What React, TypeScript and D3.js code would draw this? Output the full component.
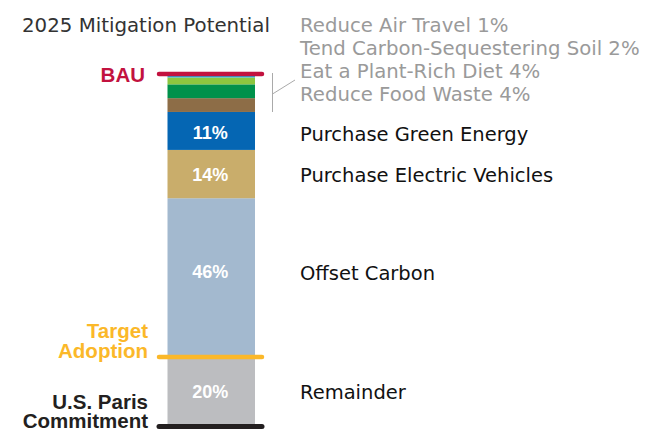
import React from "react";
import * as d3 from "d3";

const categories = [
  "Remainder",
  "Offset Carbon",
  "Purchase Electric Vehicles",
  "Purchase Green Energy",
  "Reduce Food Waste",
  "Eat a Plant-Rich Diet",
  "Tend Carbon-Sequestering Soil",
  "Reduce Air Travel",
];
const values = [20, 46, 14, 11, 4, 4, 2, 1];
const colors = ["#bcbdc0", "#a3b9cf", "#c9ad6b", "#0566b3", "#8d6d47", "#00914b", "#8cc63f", "#1fb1e0"];
const showInBar = [true, true, true, true, false, false, false, false];
const labelNudge = [0, -6, 0, 2, 0, 0, 0, 0];
const grayLabels = ["Reduce Air Travel 1%", "Tend Carbon-Sequestering Soil 2%", "Eat a Plant-Rich Diet 4%", "Reduce Food Waste 4%"];
const title = "2025 Mitigation Potential";

const W = 667;
const H = 429;
const FONT = "'DejaVu Sans', sans-serif";
const BOLD = "'Liberation Sans', Arial, sans-serif";

export default function App() {
  const total = d3.sum(values);
  const y = d3.scaleLinear().domain([0, total]).range([426, 74]);
  const barX = 167.5;
  const barW = 87.5;
  const lineX0 = 159;
  const lineX1 = 262;
  const stack: { name: string; v: number; y0: number; y1: number; color: string; show: boolean }[] = [];
  let acc = 0;
  values.forEach((v, i) => {
    stack.push({ name: categories[i], v, y0: acc, y1: acc + v, color: colors[i], show: showInBar[i] });
    acc += v;
  });
  const mid = (i: number) => y((stack[i].y0 + stack[i].y1) / 2) + labelNudge[i];
  const targetY = y(stack[0].y1);

  return (
    <svg width={W} height={H} style={{ position: "absolute", left: 0, top: 0 }} fontFamily={FONT}>
      <text x={22} y={31.5} fontSize={19.8} fill="#333">{title}</text>
      {stack.map((s, i) => (
        <rect key={i} x={barX} y={y(s.y1)} width={barW} height={y(s.y0) - y(s.y1)} fill={s.color} />
      ))}
      {stack.map((s, i) =>
        s.show ? (
          <text key={"t" + i} x={barX + barW / 2 - 1} y={mid(i) + 6.5} textAnchor="middle" fontSize={18} fontWeight="bold" fontFamily={BOLD} fill="#fff">
            {s.v}%
          </text>
        ) : null
      )}
      <line x1={lineX0} x2={lineX1} y1={y(total)} y2={y(total)} stroke="#c2123f" strokeWidth={4.5} strokeLinecap="round" />
      <line x1={lineX0} x2={lineX1} y1={targetY} y2={targetY} stroke="#fbb829" strokeWidth={4.5} strokeLinecap="round" />
      <line x1={lineX0} x2={lineX1} y1={426.5} y2={426.5} stroke="#231f20" strokeWidth={5} strokeLinecap="round" />
      <text x={145} y={81.5} textAnchor="end" fontSize={20.5} fontWeight="bold" fontFamily={BOLD} fill="#c2123f">BAU</text>
      <text textAnchor="end" fontSize={20.5} fontWeight="bold" fontFamily={BOLD} fill="#fbb829">
        <tspan x={148} y={338}>Target</tspan>
        <tspan x={148} y={358}>Adoption</tspan>
      </text>
      <text textAnchor="end" fontSize={20.5} fontWeight="bold" fontFamily={BOLD} fill="#231f20">
        <tspan x={148} y={409}>U.S. Paris</tspan>
        <tspan x={148} y={428}>Commitment</tspan>
      </text>
      <line x1={272.5} x2={272.5} y1={73} y2={112} stroke="#aaa" strokeWidth={1} />
      <line x1={272.5} x2={295} y1={94} y2={80} stroke="#aaa" strokeWidth={1} />
      {grayLabels.map((g, i) => (
        <text key={"g" + i} x={300} y={32 + i * 23} fontSize={19.7} fill="#9a9a9a">{g}</text>
      ))}
      {[3, 2, 1, 0].map((i) => (
        <text key={"r" + i} x={300} y={mid(i) + 8} fontSize={19.5} fill="#111">{categories[i]}</text>
      ))}
    </svg>
  );
}
